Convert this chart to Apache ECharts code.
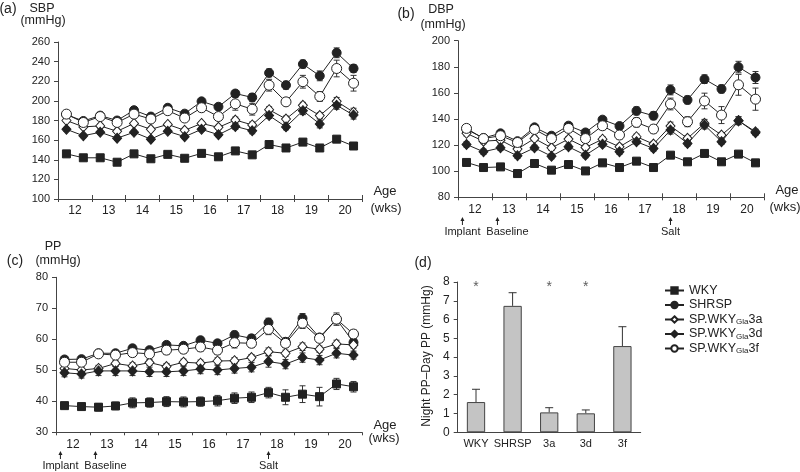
<!DOCTYPE html>
<html><head><meta charset="utf-8">
<script src="https://cdn.jsdelivr.net/npm/echarts@6/dist/echarts.min.js"></script>
<style>html,body{margin:0;padding:0;background:#fff}#c{width:800px;height:472px}</style>
</head><body><div id="c"></div>
<script>
// ---------- data ----------
const weekLabels = ['12','13','14','15','16','17','18','19','20'];
const ageWeeks = [11.75,12.25,12.75,13.25,13.75,14.25,14.75,15.25,15.75,16.25,16.75,17.25,17.75,18.25,18.75,19.25,19.75,20.25];
const seriesNames = ['WKY','SHRSP','SP.WKYGla3a','SP.WKYGla3d','SP.WKYGla3f'];

// (a) SBP
const sbpWKY   = [146,142,142,137.5,146,141,145.5,141.5,146.5,143,149,145,155.5,152,158,152,161,154];
const sbpSHRSP = [186,179.5,185,180,190.5,184,193,187,199.5,194,207.5,203.5,228.5,216,237.5,225.5,249,233];
const sbp3a    = [180,173.5,174.5,169,177,171,176,170,177,173,180.5,175.5,191,181.5,195.5,185,199.5,188.5];
const sbp3d    = [171,164.5,168,162,168,161,169,163.5,171,165.5,174,169.5,185,173.5,190,176.5,195.5,185.5];
const sbp3f    = [186.5,178,184,178,186.5,181.5,190,182.5,193,184,197,191.5,216,199,219.5,204.5,233,218];
const sbpWKYErr   = [2,2,2,2,2,2,2,2,2,2,2,2,2,2,2,2,2,2];
const sbpSHRSPErr = [2,2,2,2,2,2,2,2,2,3,3,4,4,4,4,5,5,4];
const sbp3aErr    = [2,2,2,2,2,2,2,2,2,2,3,3,3,3,3,3,4,4];
const sbp3dErr    = [2,2,2,2,2,2,2,2,2,2,3,3,3,3,4,4,4,4];
const sbp3fErr    = [2,2,2,2,3,2,3,3,4,4,6.5,6,6,3,6.5,5,8.5,8];

// (b) DBP
const dbpWKY   = [106.7,102.8,103.3,98.2,105.9,100.8,105.1,100.2,106.4,102.8,107.7,102.8,112.3,107.2,113.6,107.2,113.1,106.4];
const dbpSHRSP = [132,125.5,129,123,133.6,127.2,134.9,129.7,139.5,134.6,146.2,142.5,162.3,154.6,170.5,163,179.8,171.8];
const dbp3a    = [129,123,123.8,117,125,117.9,124.6,118.2,124.5,118.7,126.4,120.8,134.6,125.2,136.7,127.7,138.7,130.2];
const dbp3d    = [120.5,114.9,117.9,111.8,117.9,111.5,118.7,112.3,120.7,114.9,122.6,117.4,131.5,121.3,135.4,122.6,138.7,129.5];
const dbp3f    = [132.8,125,127.2,122,132,125,132.8,125,134.8,127.7,137.4,132.3,151.5,137.9,153.8,143,166.2,155.2];
const dbpWKYErr   = [2,2,2,2,2,2,2,2,2,2,2,2,2,2,2,2,2,2];
const dbpSHRSPErr = [2,2,2,2,2,2,2,2,2,2,3,3,3.8,3,3.3,3,4.4,4.6];
const dbp3aErr    = [2,2,2,2,2,2,2,2,2,2,2,2,3,2,3,2,3,2];
const dbp3dErr    = [2,2,2,2,2,2,2,2,2,2,2,2,3,2,3,2,3,2];
const dbp3fErr    = [2,2,2,2,2,2,2,2,3,3,3.5,3,4.5,3.8,6,6.5,8,8.5];

// (c) PP
const ppWKY   = [38.6,38.3,38.1,38.5,39.5,39.6,39.9,39.8,39.9,40.2,41,41.3,42.8,41.3,42.3,41.5,45.6,44.7];
const ppSHRSP = [53.5,53.6,55.5,55.5,57.1,56.5,58.2,57.9,59.7,58.7,61.4,60.3,65.4,59.2,66.8,60.6,66.5,59];
const pp3a    = [50.6,50.1,50.6,52.2,51.4,52.5,51.2,52.6,52.3,53,53.1,54.1,56,55.5,57.6,56.8,58.5,58.2];
const pp3d    = [49.2,48.8,49.8,49.8,49.8,49.5,49.5,49.8,50.4,50.1,50.6,51,52.8,52,54.1,53.3,55.5,54.9];
const pp3f    = [52.6,52.6,55.3,54.9,55.7,55.3,56.5,56.8,57.5,56.5,58.9,58.7,63.2,58.7,65.2,60.3,66.5,61.7];
const ppWKYErr   = [1,1,1.2,1.2,1.6,1.5,1.6,1.6,1.5,1.7,1.7,1.7,1.7,2.4,2.7,3,1.8,1.7];
const ppSHRSPErr = [1,1,1,1,1,1,1,1,1,1,1.2,1.2,1.4,1.2,1.5,1.2,1.5,1.3];
const pp3aErr    = [1,1,1,1,1,1,1,1,1,1,1,1,1.2,1,1.2,1,1.2,1];
const pp3dErr    = [1.3,1.3,1.5,1.5,1.5,1.5,1.5,1.5,1.5,1.5,1.5,1.5,1.8,1.5,1.5,1.5,1.5,1.3];
const pp3fErr    = [1,1,1,1,1.3,1,1.3,1.3,1.3,1.3,1.7,1.3,1.7,1.3,1.7,1.3,2,1.3];

// (d) Night PP - Day PP
const barCats = ['WKY','SHRSP','3a','3d','3f'];
const barVals = [1.61,6.73,1.06,1.01,4.59];
const barErr  = [0.68,0.70,0.25,0.18,1.03];
const barSig  = [true,false,true,true,false];

// annotation positions (weeks)
const eventNames = ['Implant','Baseline','Salt'];
const eventWeeks = [11.63,12.66,17.75];

// ---------- styling ----------
const FONT = 'Liberation Sans, Arial, Helvetica, sans-serif';
const INK = '#222';
const AX = '#444';
const styles = [
  {symbol:'rect', size:8, fill:INK},
  {symbol:'circle', size:9, fill:INK},
  {symbol:'diamond', size:[9,10], fill:'#fff'},
  {symbol:'diamond', size:[9,10], fill:INK},
  {symbol:'circle', size:10, fill:'#fff'}
];

const panels = [
  {grid:{left:58, top:42, width:304, height:157}, min:100, max:260, interval:20,
   vals:[sbpWKY,sbpSHRSP,sbp3a,sbp3d,sbp3f], errs:[sbpWKYErr,sbpSHRSPErr,sbp3aErr,sbp3dErr,sbp3fErr], innerTicks:true},
  {grid:{left:458, top:40.7, width:306, height:156.6}, min:80, max:200, interval:20,
   vals:[dbpWKY,dbpSHRSP,dbp3a,dbp3d,dbp3f], errs:[dbpWKYErr,dbpSHRSPErr,dbp3aErr,dbp3dErr,dbp3fErr], innerTicks:true},
  {grid:{left:56, top:277.3, width:306, height:155}, min:30, max:80, interval:10,
   vals:[ppWKY,ppSHRSP,pp3a,pp3d,pp3f], errs:[ppWKYErr,ppSHRSPErr,pp3aErr,pp3dErr,pp3fErr], innerTicks:false}
];

const grids = [], xAxes = [], yAxes = [], series = [];

function errRender(params, api) {
  const x = api.value(0), y = api.value(1), e = api.value(2);
  const t = api.coord([x, y + e]), b = api.coord([x, y - e]);
  const cw = 3, st = {stroke:'#333', lineWidth:1};
  return {type:'group', children:[
    {type:'line', shape:{x1:t[0],y1:t[1],x2:b[0],y2:b[1]}, style:st},
    {type:'line', shape:{x1:t[0]-cw,y1:t[1],x2:t[0]+cw,y2:t[1]}, style:st},
    {type:'line', shape:{x1:b[0]-cw,y1:b[1],x2:b[0]+cw,y2:b[1]}, style:st}
  ]};
}

panels.forEach((p, pi) => {
  grids.push(Object.assign({containLabel:false}, p.grid));
  // value x axis (data scale, inner ticks)
  xAxes.push({type:'value', gridIndex:pi, position:'bottom', min:11.5, max:20.5, interval:1,
    axisLine:{show:false}, axisLabel:{show:false}, splitLine:{show:false},
    axisTick:{show:p.innerTicks, inside:true, length:4, lineStyle:{color:AX}}});
  // category x axis (labels)
  xAxes.push({type:'category', gridIndex:pi, position:'bottom', offset:0, data:weekLabels, boundaryGap:true,
    axisLine:{lineStyle:{color:AX, width:1}},
    axisTick:{show:true, length:3, lineStyle:{color:AX}},
    axisLabel:{fontFamily:FONT, fontSize:12, color:'#222', margin:6, interval:0}});
  yAxes.push({type:'value', gridIndex:pi, min:p.min, max:p.max, interval:p.interval,
    axisLine:{show:true, lineStyle:{color:AX}}, splitLine:{show:false},
    axisTick:{show:true, length:4, lineStyle:{color:AX}},
    axisLabel:{fontFamily:FONT, fontSize:11, color:'#222', margin:8}});
  const xi = pi * 2, yi = pi;
  p.vals.forEach((arr, si) => {
    series.push({type:'custom', xAxisIndex:xi, yAxisIndex:yi, z:2, silent:true,
      renderItem:errRender, data: arr.map((v,i)=>[ageWeeks[i], v, p.errs[si][i]])});
  });
  p.vals.forEach((arr, si) => {
    const s = styles[si];
    series.push({type:'line', name:seriesNames[si], xAxisIndex:xi, yAxisIndex:yi, z:3+si,
      symbol:s.symbol, symbolSize:s.size, showAllSymbol:true,
      lineStyle:{color:INK, width:1},
      itemStyle:{color:s.fill, borderColor:INK, borderWidth:1},
      emphasis:{disabled:true}, animation:false,
      data: arr.map((v,i)=>[ageWeeks[i], v])});
  });
});

// panel (d)
grids.push({left:457.7, top:282, width:183, height:150.3});
xAxes.push({type:'category', gridIndex:3, position:'bottom', data:barCats,
  axisLine:{lineStyle:{color:AX}}, axisTick:{show:false},
  axisLabel:{fontFamily:FONT, fontSize:11, color:'#222', margin:6, interval:0}});
yAxes.push({type:'value', gridIndex:3, min:0, max:8, interval:1,
  axisLine:{show:true, lineStyle:{color:AX}}, splitLine:{show:false},
  axisTick:{show:true, length:4, lineStyle:{color:AX}},
  axisLabel:{fontFamily:FONT, fontSize:12, color:'#222', margin:8}});
series.push({type:'bar', name:'diff', xAxisIndex:6, yAxisIndex:3, barWidth:'50%', z:3,
  itemStyle:{color:'#c4c4c4', borderColor:'#444', borderWidth:1}, animation:false,
  data:barVals});
series.push({type:'custom', xAxisIndex:6, yAxisIndex:3, z:2, silent:true,
  renderItem:function(params, api){
    const x = api.value(0), y = api.value(1), e = api.value(2);
    const t = api.coord([x, y + e]), b = api.coord([x, y]);
    const st = {stroke:'#333', lineWidth:1};
    return {type:'group', children:[
      {type:'line', shape:{x1:t[0],y1:t[1],x2:b[0],y2:b[1]}, style:st},
      {type:'line', shape:{x1:t[0]-4,y1:t[1],x2:t[0]+4,y2:t[1]}, style:st}
    ]};
  },
  data: barVals.map((v,i)=>[i, v, barErr[i]])});
series.push({type:'scatter', xAxisIndex:6, yAxisIndex:3, symbolSize:0, silent:true, z:5,
  label:{show:true, formatter:'*', position:'inside', fontFamily:FONT, fontSize:14, color:'#333'},
  data: barSig.map((s,i)=> s ? [i, 7.75] : null).filter(d=>d)});

const legendRich = {sub:{fontSize:8, fontFamily:FONT, color:'#222', padding:[5,0,0,0], lineHeight:12}};

const texts = [
  ['(a)', 8, 9, 14], ['SBP', 42, 9, 12.5], ['(mmHg)', 43, 21, 12.5],
  ['Age', 385, 191, 13], ['(wks)', 386, 208, 13],
  ['(b)', 406, 14, 14], ['DBP', 441, 10, 12.5], ['(mmHg)', 443, 25, 12.5],
  ['Age', 787, 190, 13], ['(wks)', 785, 207, 13],
  ['(c)', 15, 261, 14], ['PP', 53, 247, 12.5], ['(mmHg)', 58, 261, 12.5],
  ['Age', 385, 425, 13], ['(wks)', 384, 438, 13],
  ['(d)', 423, 263, 14]
];
const graphic = texts.map(t => ({type:'text', x:t[1], y:t[2],
  style:{text:t[0], fill:'#222', font: t[3] + 'px ' + FONT, textAlign:'center', textVerticalAlign:'middle'}}));
graphic.push({type:'text', x:427, y:356, rotation:Math.PI/2,
  style:{text:'Night PP–Day PP (mmHg)', fill:'#222', font:'12px ' + FONT, textAlign:'center', textVerticalAlign:'middle'}});

const chart = echarts.init(document.getElementById('c'), null, {renderer:'canvas'});
chart.setOption({
  animation:false,
  grid:grids, xAxis:xAxes, yAxis:yAxes, series:series,
  legend:{data:seriesNames, orient:'vertical', left:659, top:279, itemWidth:19, itemHeight:8, itemGap:1.5,
    selectedMode:false,
    formatter: n => n.replace('Gla', '{sub|Gla}'),
    textStyle:{fontFamily:FONT, fontSize:12.5, lineHeight:13, color:'#222', rich:legendRich}},
  graphic:graphic
});

// event annotations under panels (b) and (c)
const ann = [];
[{xa:2, arrowTop:217, arrowBot:225, textY:232},
 {xa:4, arrowTop:451, arrowBot:459, textY:466}].forEach(cfg => {
  eventWeeks.forEach((w, k) => {
    const px = chart.convertToPixel({xAxisIndex:cfg.xa}, w);
    ann.push({type:'line', shape:{x1:px,y1:cfg.arrowTop+2,x2:px,y2:cfg.arrowBot}, style:{stroke:'#222', lineWidth:1}});
    ann.push({type:'polygon', shape:{points:[[px,cfg.arrowTop],[px-2,cfg.arrowTop+4],[px+2,cfg.arrowTop+4]]}, style:{fill:'#222'}});
    const tx = eventNames[k] === 'Baseline' ? px + 10 : px;
    ann.push({type:'text', x:tx, y:cfg.textY, style:{text:eventNames[k], fill:'#222', font:'11px ' + FONT, textAlign:'center', textVerticalAlign:'middle'}});
  });
});
chart.setOption({graphic: graphic.concat(ann)});
</script>
</body></html>
